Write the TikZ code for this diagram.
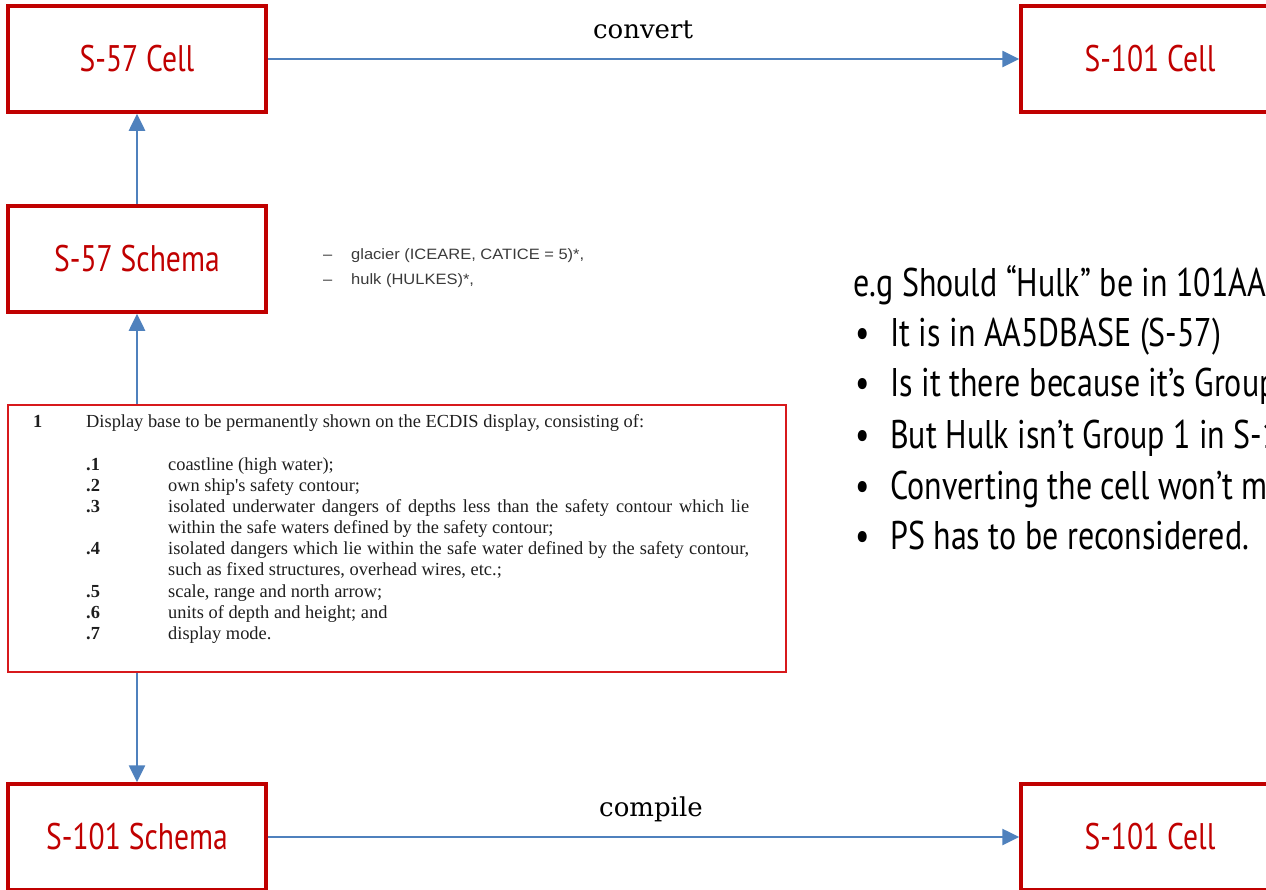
\documentclass[tikz,border=0pt]{standalone}
\usepackage{fontspec}
\usetikzlibrary{arrows.meta}
\newfontfamily\dinfont[FakeStretch=0.8]{PT Sans}
\newfontfamily\docserif{Liberation Serif}
\newfontfamily\labelserif{DejaVu Serif}
\newfontfamily\docsans[FakeStretch=1.1]{Liberation Sans}
\definecolor{boxred}{HTML}{C00000}
\definecolor{tablered}{HTML}{D7191C}
\definecolor{flowblue}{HTML}{4F81BD}
\definecolor{doctext}{HTML}{1E1E1E}
\definecolor{graytext}{HTML}{3A3A3A}
\tikzset{
  stagebox/.style={draw=boxred, line width=3.5pt, minimum width=258pt, minimum height=106pt,
    inner sep=0pt, text=boxred, font=\dinfont\fontsize{37}{40}\selectfont},
  flow/.style={draw=flowblue, line width=2.6pt, -{Triangle[length=17pt,width=16pt]}},
  flowlabel/.style={anchor=base, inner sep=0pt, font=\labelserif\fontsize{26}{30}\selectfont, text=black},
  docline/.style={anchor=base west, inner sep=0pt, text=doctext, font=\docserif\fontsize{18.4}{21}\selectfont},
  noteline/.style={anchor=base west, inner sep=0pt, text=graytext, font=\docsans\fontsize{15}{18}\selectfont},
  pointline/.style={anchor=base west, inner sep=0pt, text=black, font=\dinfont\fontsize{40}{44}\selectfont}
}
\begin{document}
\begin{tikzpicture}[x=1pt,y=-1pt]
\useasboundingbox (0,0) rectangle (1266,889);
\clip (0,0) rectangle (1266,889);

% stage boxes
\node[stagebox] (s57cell)    at (137,59)  {S-57 Cell};
\node[stagebox] (s101cellA)  at (1150,59) {S-101 Cell};
\node[stagebox] (s57schema)  at (137,259) {S-57 Schema};
\node[stagebox] (s101schema) at (137,837) {S-101 Schema};
\node[stagebox] (s101cellB)  at (1150,837) {S-101 Cell};

% extract from the ECDIS performance standard
\node[draw=tablered, line width=1.8pt, minimum width=778pt, minimum height=267pt, inner sep=0pt]
  (excerpt) at (397,538.5) {};
\node[docline] (n0) at (33,427) {\bfseries 1};
\node[docline] (t0) at (86,427) {Display base to be permanently shown on the ECDIS display, consisting of:};
\node[docline] (n1) at (86,470) {\bfseries .1};
\node[docline] (t1) at (168,470) {coastline (high water);};
\node[docline] (n2) at (86,491) {\bfseries .2};
\node[docline] (t2) at (168,491) {own ship's safety contour;};
\node[docline] (n3) at (86,512) {\bfseries .3};
\node[docline] (t3) at (168,512) {\makebox[581pt][s]{isolated underwater dangers of depths less than the safety contour which lie}};
\node[docline] (t3b) at (168,533) {within the safe waters defined by the safety contour;};
\node[docline] (n4) at (86,554) {\bfseries .4};
\node[docline] (t4) at (168,554) {\makebox[581pt][s]{isolated dangers which lie within the safe water defined by the safety contour,}};
\node[docline] (t4b) at (168,575) {such as fixed structures, overhead wires, etc.;};
\node[docline] (n5) at (86,597) {\bfseries .5};
\node[docline] (t5) at (168,597) {scale, range and north arrow;};
\node[docline] (n6) at (86,618) {\bfseries .6};
\node[docline] (t6) at (168,618) {units of depth and height; and};
\node[docline] (n7) at (86,639) {\bfseries .7};
\node[docline] (t7) at (168,639) {display mode.};

% object classes listed beside the schema
\node[noteline] (d1) at (323,259) {–};
\node[noteline] (g1) at (351,259) {glacier (ICEARE, CATICE = 5)*,};
\node[noteline] (d2) at (323,284) {–};
\node[noteline] (g2) at (351,284) {hulk (HULKES)*,};

% discussion points
\node[pointline] (q0) at (853,296) {e.g Should “Hulk” be in 101AA0B};
\node[pointline] (b1) at (855,346) {•};
\node[pointline] (p1) at (890,346) {It is in AA5DBASE (S-57)};
\node[pointline] (b2) at (855,396) {•};
\node[pointline] (p2) at (890,396) {Is it there because it’s Group};
\node[pointline] (b3) at (855,448) {•};
\node[pointline] (p3) at (890,448) {But Hulk isn’t Group 1 in S-10};
\node[pointline] (b4) at (855,499) {•};
\node[pointline] (p4) at (890,499) {Converting the cell won’t m};
\node[pointline] (b5) at (855,549) {•};
\node[pointline] (p5) at (890,549) {PS has to be reconsidered.};

% connectors
\draw[flow] (s57cell) -- (s101cellA);
\draw[flow] (s101schema) -- (s101cellB);
\draw[flow] (s57schema) -- (s57cell);
\draw[flow] (excerpt.north -| s57schema.south) -- (s57schema.south);
\draw[flow] (excerpt.south -| s101schema.north) -- (s101schema.north);

\node[flowlabel] (lconv) at (643,38) {convert};
\node[flowlabel] (lcomp) at (651,816) {compile};
\end{tikzpicture}
\end{document}
